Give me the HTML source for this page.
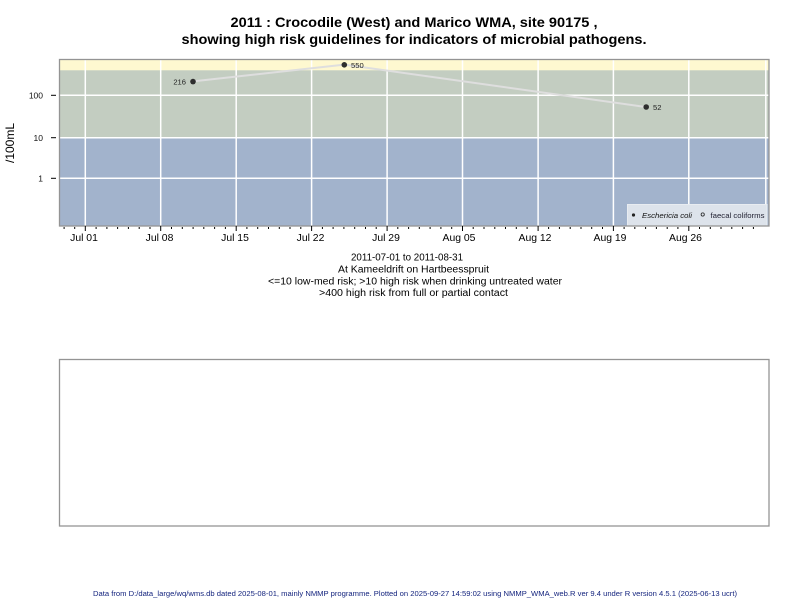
<!DOCTYPE html>
<html>
<head>
<meta charset="utf-8">
<style>
  html, body { margin: 0; padding: 0; background: #ffffff; }
  svg { display: block; }
  text { font-family: "Liberation Sans", "DejaVu Sans", sans-serif; }
</style>
</head>
<body>
<svg width="800" height="600" viewBox="0 0 800 600" xmlns="http://www.w3.org/2000/svg">
  <rect x="0" y="0" width="800" height="600" fill="#ffffff"/>

  <!-- Title -->
  <text x="414" y="27" font-size="14" font-weight="bold" text-anchor="middle" fill="#000" textLength="367" lengthAdjust="spacingAndGlyphs">2011 : Crocodile (West) and Marico WMA, site 90175 ,</text>
  <text x="414" y="44" font-size="14" font-weight="bold" text-anchor="middle" fill="#000" textLength="465" lengthAdjust="spacingAndGlyphs">showing high risk guidelines for indicators of microbial pathogens.</text>

  <!-- Plot bands -->
  <rect x="59.5" y="59.5" width="709.5" height="11" fill="#fef8d0"/>
  <rect x="59.5" y="70.3" width="709.5" height="67.4" fill="#c3cdc1"/>
  <rect x="59.5" y="137.7" width="709.5" height="88.3" fill="#a2b3cc"/>

  <!-- Horizontal grid -->
  <g stroke="#ffffff" stroke-width="1.5">
    <line x1="59.5" y1="95.3" x2="769" y2="95.3"/>
    <line x1="59.5" y1="137.7" x2="769" y2="137.7"/>
    <line x1="59.5" y1="178.3" x2="769" y2="178.3"/>
  </g>
  <!-- Vertical grid -->
  <g stroke="#ffffff" stroke-width="1.5">
    <line x1="85.3" y1="59.5" x2="85.3" y2="226"/>
    <line x1="160.7" y1="59.5" x2="160.7" y2="226"/>
    <line x1="236.2" y1="59.5" x2="236.2" y2="226"/>
    <line x1="311.6" y1="59.5" x2="311.6" y2="226"/>
    <line x1="387.1" y1="59.5" x2="387.1" y2="226"/>
    <line x1="462.5" y1="59.5" x2="462.5" y2="226"/>
    <line x1="538.1" y1="59.5" x2="538.1" y2="226"/>
    <line x1="613.4" y1="59.5" x2="613.4" y2="226"/>
    <line x1="688.8" y1="59.5" x2="688.8" y2="226"/>
    <line x1="765.8" y1="59.5" x2="765.8" y2="226"/>
  </g>

  <!-- Series line -->
  <polyline points="193,81.4 344.3,64.6 646.4,107.1" fill="none" stroke="#dedede" stroke-width="2"/>
  <!-- Points -->
  <g fill="#2e2e2e">
    <circle cx="193" cy="81.6" r="2.8"/>
    <circle cx="344.3" cy="64.8" r="2.8"/>
    <circle cx="646.2" cy="107" r="2.8"/>
  </g>
  <g font-size="7.6" fill="#222">
    <text x="186" y="84.6" text-anchor="end">216</text>
    <text x="351" y="67.8">550</text>
    <text x="653" y="110">52</text>
  </g>

  <!-- Legend -->
  <rect x="627.5" y="204.5" width="139.5" height="21.5" fill="#dde3eb" stroke="#e8ecf1" stroke-width="1"/>
  <circle cx="633.5" cy="215" r="1.6" fill="#222"/>
  <text x="642" y="218" font-size="7.6" font-style="italic" fill="#111" textLength="50" lengthAdjust="spacingAndGlyphs">Eschericia coli</text>
  <circle cx="702.7" cy="214.5" r="1.6" fill="none" stroke="#222" stroke-width="0.8"/>
  <text x="710.5" y="218" font-size="7.4" fill="#223" textLength="54" lengthAdjust="spacingAndGlyphs">faecal coliforms</text>

  <!-- Plot border -->
  <rect x="59.5" y="59.5" width="709.5" height="166.5" fill="none" stroke="#949494" stroke-width="1.3"/>

  <!-- Y axis ticks and labels -->
  <g stroke="#000" stroke-width="1">
    <line x1="51" y1="95.3" x2="56" y2="95.3"/>
    <line x1="51" y1="137.7" x2="56" y2="137.7"/>
    <line x1="51" y1="178.3" x2="56" y2="178.3"/>
  </g>
  <g font-size="8.5" fill="#111" text-anchor="end">
    <text x="43" y="98.5">100</text>
    <text x="43" y="140.9">10</text>
    <text x="43" y="181.5">1</text>
  </g>
  <text transform="translate(14,143) rotate(-90)" font-size="12" text-anchor="middle" fill="#000">/100mL</text>

  <!-- X axis ticks -->
  <g stroke="#000" stroke-width="1">
    <line x1="85.3" y1="226" x2="85.3" y2="231"/>
    <line x1="160.7" y1="226" x2="160.7" y2="231"/>
    <line x1="236.2" y1="226" x2="236.2" y2="231"/>
    <line x1="311.6" y1="226" x2="311.6" y2="231"/>
    <line x1="387.1" y1="226" x2="387.1" y2="231"/>
    <line x1="462.5" y1="226" x2="462.5" y2="231"/>
    <line x1="538.1" y1="226" x2="538.1" y2="231"/>
    <line x1="613.4" y1="226" x2="613.4" y2="231"/>
    <line x1="688.8" y1="226" x2="688.8" y2="231"/>
  </g>
  <g stroke="#000" stroke-width="1">
    <line x1="64.1" y1="227" x2="64.1" y2="229"/>
    <line x1="74.7" y1="227" x2="74.7" y2="229"/>
    <line x1="96.1" y1="227" x2="96.1" y2="229"/>
    <line x1="106.9" y1="227" x2="106.9" y2="229"/>
    <line x1="117.6" y1="227" x2="117.6" y2="229"/>
    <line x1="128.4" y1="227" x2="128.4" y2="229"/>
    <line x1="139.2" y1="227" x2="139.2" y2="229"/>
    <line x1="150.0" y1="227" x2="150.0" y2="229"/>
    <line x1="171.5" y1="227" x2="171.5" y2="229"/>
    <line x1="182.3" y1="227" x2="182.3" y2="229"/>
    <line x1="193.1" y1="227" x2="193.1" y2="229"/>
    <line x1="203.8" y1="227" x2="203.8" y2="229"/>
    <line x1="214.6" y1="227" x2="214.6" y2="229"/>
    <line x1="225.4" y1="227" x2="225.4" y2="229"/>
    <line x1="246.9" y1="227" x2="246.9" y2="229"/>
    <line x1="257.7" y1="227" x2="257.7" y2="229"/>
    <line x1="268.5" y1="227" x2="268.5" y2="229"/>
    <line x1="279.3" y1="227" x2="279.3" y2="229"/>
    <line x1="290.0" y1="227" x2="290.0" y2="229"/>
    <line x1="300.8" y1="227" x2="300.8" y2="229"/>
    <line x1="322.4" y1="227" x2="322.4" y2="229"/>
    <line x1="333.1" y1="227" x2="333.1" y2="229"/>
    <line x1="343.9" y1="227" x2="343.9" y2="229"/>
    <line x1="354.7" y1="227" x2="354.7" y2="229"/>
    <line x1="365.5" y1="227" x2="365.5" y2="229"/>
    <line x1="376.2" y1="227" x2="376.2" y2="229"/>
    <line x1="397.8" y1="227" x2="397.8" y2="229"/>
    <line x1="408.6" y1="227" x2="408.6" y2="229"/>
    <line x1="419.3" y1="227" x2="419.3" y2="229"/>
    <line x1="430.1" y1="227" x2="430.1" y2="229"/>
    <line x1="440.9" y1="227" x2="440.9" y2="229"/>
    <line x1="451.7" y1="227" x2="451.7" y2="229"/>
    <line x1="473.2" y1="227" x2="473.2" y2="229"/>
    <line x1="484.0" y1="227" x2="484.0" y2="229"/>
    <line x1="494.8" y1="227" x2="494.8" y2="229"/>
    <line x1="505.5" y1="227" x2="505.5" y2="229"/>
    <line x1="516.3" y1="227" x2="516.3" y2="229"/>
    <line x1="527.1" y1="227" x2="527.1" y2="229"/>
    <line x1="548.6" y1="227" x2="548.6" y2="229"/>
    <line x1="559.4" y1="227" x2="559.4" y2="229"/>
    <line x1="570.2" y1="227" x2="570.2" y2="229"/>
    <line x1="581.0" y1="227" x2="581.0" y2="229"/>
    <line x1="591.7" y1="227" x2="591.7" y2="229"/>
    <line x1="602.5" y1="227" x2="602.5" y2="229"/>
    <line x1="624.1" y1="227" x2="624.1" y2="229"/>
    <line x1="634.8" y1="227" x2="634.8" y2="229"/>
    <line x1="645.6" y1="227" x2="645.6" y2="229"/>
    <line x1="656.4" y1="227" x2="656.4" y2="229"/>
    <line x1="667.2" y1="227" x2="667.2" y2="229"/>
    <line x1="677.9" y1="227" x2="677.9" y2="229"/>
    <line x1="699.5" y1="227" x2="699.5" y2="229"/>
    <line x1="710.3" y1="227" x2="710.3" y2="229"/>
    <line x1="721.0" y1="227" x2="721.0" y2="229"/>
    <line x1="731.8" y1="227" x2="731.8" y2="229"/>
    <line x1="742.6" y1="227" x2="742.6" y2="229"/>
    <line x1="753.4" y1="227" x2="753.4" y2="229"/>
  </g>
  <g font-size="10.4" fill="#000" text-anchor="middle">
    <text x="84" y="241">Jul 01</text>
    <text x="159.5" y="241">Jul 08</text>
    <text x="235" y="241">Jul 15</text>
    <text x="310.5" y="241">Jul 22</text>
    <text x="386" y="241">Jul 29</text>
    <text x="459" y="241">Aug 05</text>
    <text x="535" y="241">Aug 12</text>
    <text x="610" y="241">Aug 19</text>
    <text x="685.5" y="241">Aug 26</text>
  </g>

  <!-- Caption below plot -->
  <g font-size="10" fill="#000">
    <text x="351" y="260.5" textLength="112" lengthAdjust="spacingAndGlyphs">2011-07-01 to 2011-08-31</text>
    <text x="338" y="272.5" textLength="151" lengthAdjust="spacingAndGlyphs">At Kameeldrift on Hartbeesspruit</text>
    <text x="268" y="284.5" textLength="294" lengthAdjust="spacingAndGlyphs">&lt;=10 low-med risk; &gt;10 high risk when drinking untreated water</text>
    <text x="319" y="296" textLength="189" lengthAdjust="spacingAndGlyphs">&gt;400 high risk from full or partial contact</text>
  </g>

  <!-- Lower empty panel -->
  <rect x="59.5" y="359.5" width="709.5" height="166.5" fill="#ffffff" stroke="#949494" stroke-width="1.3"/>

  <!-- Footer -->
  <text x="93" y="596" font-size="7" fill="#14247e" textLength="644" lengthAdjust="spacingAndGlyphs">Data from D:/data_large/wq/wms.db dated 2025-08-01, mainly NMMP programme. Plotted on 2025-09-27 14:59:02 using NMMP_WMA_web.R ver 9.4 under R version 4.5.1 (2025-06-13 ucrt)</text>
</svg>
</body>
</html>
